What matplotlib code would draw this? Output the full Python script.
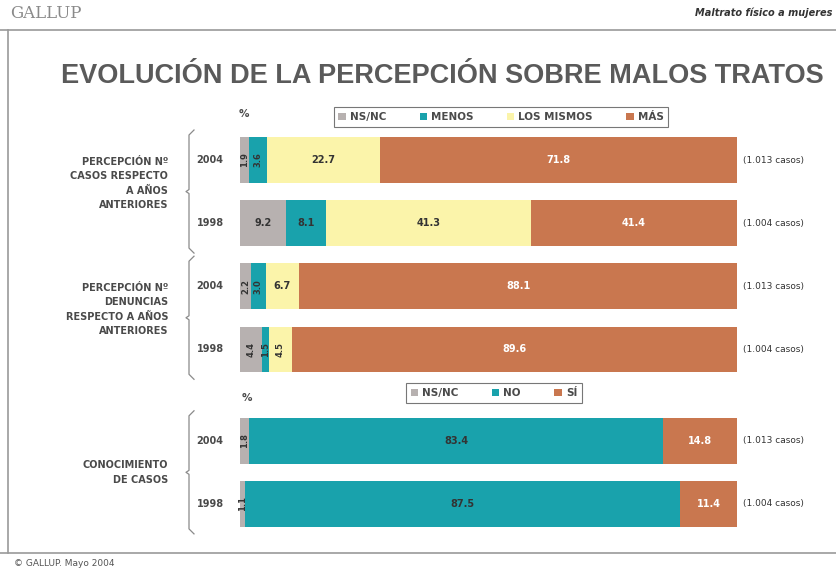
import numpy as np
import matplotlib
matplotlib.use('Agg')
import matplotlib.pyplot as plt
from matplotlib.patches import Patch

# data
years = ['2004', '1998', '2004', '1998', '2004', '1998']
cases = ['(1.013 casos)', '(1.004 casos)', '(1.013 casos)', '(1.004 casos)',
         '(1.013 casos)', '(1.004 casos)']
groups = ['PERCEPCIÓN Nº\nCASOS RESPECTO\nA AÑOS\nANTERIORES',
          'PERCEPCIÓN Nº\nDENUNCIAS\nRESPECTO A AÑOS\nANTERIORES',
          'CONOCIMIENTO\nDE CASOS']

cats_a = ['NS/NC', 'MENOS', 'LOS MISMOS', 'MÁS']
nsnc_a = [1.9, 9.2, 2.2, 4.4]
menos = [3.6, 8.1, 3.0, 1.5]
mismos = [22.7, 41.3, 6.7, 4.5]
mas = [71.8, 41.4, 88.1, 89.6]

cats_b = ['NS/NC', 'NO', 'SÍ']
nsnc_b = [1.8, 1.1]
no = [83.4, 87.5]
si = [14.8, 11.4]

GRAY = '#b7b1b0'
TEAL = '#19a2ac'
YELLOW = '#fbf4aa'
ORANGE = '#c9774f'
TXT = '#4a4a4a'

W, H = 836, 572
fig = plt.figure(figsize=(W / 100, H / 100), dpi=100)

# background overlay in pixel coords
bg = fig.add_axes([0, 0, 1, 1])
bg.set_xlim(0, W)
bg.set_ylim(H, 0)
bg.axis('off')

bg.text(10, 13, 'GALLUP', family='DejaVu Serif', fontsize=12, color='#8a8a8a',
        va='center', ha='left')
bg.text(832, 13, 'Maltrato físico a mujeres', fontsize=7, fontweight='bold',
        style='italic', color='#333333', va='center', ha='right')
bg.plot([0, W], [30, 30], color='#9a9a9a', lw=1.2)
bg.plot([8, 8], [30, 553], color='#9a9a9a', lw=1.2)
bg.plot([0, W], [553, 553], color='#9a9a9a', lw=1.2)
bg.text(14, 563, '© GALLUP. Mayo 2004', fontsize=6.5, color='#555555',
        va='center', ha='left')

bg.text(442, 76, 'EVOLUCIÓN DE LA PERCEPCIÓN SOBRE MALOS TRATOS',
        fontsize=19.5, fontweight='bold', color='#5a5a5a', ha='center', va='center',
        family='Liberation Sans')

bg.text(244, 114, '%', fontsize=7.5, fontweight='bold', color=TXT, ha='center', va='center')
bg.text(247, 398, '%', fontsize=7.5, fontweight='bold', color=TXT, ha='center', va='center')

# chart axes: x 240..737 px, rows
x0, x1 = 240, 737
row_y = np.array([0, 1, 2, 3, 4.45, 5.45])
top_px, unit = 160, 63.1
ax_top, ax_bot = 118, 532
ax = fig.add_axes([x0 / W, 1 - ax_bot / H, (x1 - x0) / W, (ax_bot - ax_top) / H])
ax.set_xlim(0, 100)
ax.set_ylim((ax_bot - top_px) / unit, (ax_top - top_px) / unit)
ax.axis('off')
bh = 0.72


def label_bars(bars, vals, color):
    for b, v in zip(bars, vals):
        cx = b.get_x() + b.get_width() / 2
        cy = b.get_y() + b.get_height() / 2
        if v < 5:
            ax.text(cx, cy, f'{v:.1f}', rotation=90, fontsize=6, fontweight='bold',
                    color='#333333', ha='center', va='center')
        else:
            ax.text(cx, cy, f'{v:.1f}', fontsize=7, fontweight='bold',
                    color=color, ha='center', va='center')


ya = row_y[:4]
left = np.zeros(4)
for vals, col, tc in [(nsnc_a, GRAY, '#333333'), (menos, TEAL, '#333333'),
                      (mismos, YELLOW, '#333333'), (mas, ORANGE, 'white')]:
    bars = ax.barh(ya, vals, left=left, height=bh, color=col, edgecolor='none')
    label_bars(bars, vals, tc)
    left = left + np.array(vals)

yb = row_y[4:]
left = np.zeros(2)
for vals, col, tc in [(nsnc_b, GRAY, '#333333'), (no, TEAL, '#333333'),
                      (si, ORANGE, 'white')]:
    bars = ax.barh(yb, vals, left=left, height=bh, color=col, edgecolor='none')
    label_bars(bars, vals, tc)
    left = left + np.array(vals)

# year labels, case counts
for y, yr, c in zip(row_y, years, cases):
    py = top_px + y * unit
    bg.text(210, py, yr, fontsize=7, fontweight='bold', color=TXT, ha='center', va='center')
    bg.text(743, py, c, fontsize=6.5, color='#333333', ha='left', va='center')

# brackets and group labels
spans = [(row_y[0], row_y[1]), (row_y[2], row_y[3]), (row_y[4], row_y[5])]
for (a, b), g in zip(spans, groups):
    t = top_px + a * unit - 30
    bt = top_px + b * unit + 30
    m = (t + bt) / 2
    xs = 189
    bg.plot([xs + 5, xs, xs, xs - 3, xs, xs, xs + 5],
            [t, t + 5, m - 2, m, m + 2, bt - 5, bt], color='#8a8a8a', lw=0.9)
    shift = (g.count('\n') - 1) * 4
    bg.text(168, m - shift, g, fontsize=7, fontweight='bold', color=TXT, ha='right',
            va='center', linespacing=1.55)

# legends
h1 = [Patch(facecolor=c, edgecolor='none') for c in (GRAY, TEAL, YELLOW, ORANGE)]
leg1 = fig.legend(h1, cats_a, loc='center', bbox_to_anchor=(501 / W, 1 - 117 / H),
                  ncol=4, frameon=True, fancybox=False,
                  handlelength=0.7, handleheight=0.7, handletextpad=0.4,
                  columnspacing=3.2, borderpad=0.45, borderaxespad=0,
                  prop={'weight': 'bold', 'size': 7.5})
leg1.get_frame().set_edgecolor('#555555')
leg1.get_frame().set_linewidth(0.8)
h2 = [Patch(facecolor=c, edgecolor='none') for c in (GRAY, TEAL, ORANGE)]
leg2 = fig.legend(h2, cats_b, loc='center', bbox_to_anchor=(494 / W, 1 - 393 / H),
                  ncol=3, frameon=True, fancybox=False,
                  handlelength=0.7, handleheight=0.7, handletextpad=0.4,
                  columnspacing=3.2, borderpad=0.45, borderaxespad=0,
                  prop={'weight': 'bold', 'size': 7.5})
leg2.get_frame().set_edgecolor('#555555')
leg2.get_frame().set_linewidth(0.8)
for lg in (leg1, leg2):
    for t in lg.get_texts():
        t.set_color(TXT)

fig.savefig('out.png', dpi=100)
